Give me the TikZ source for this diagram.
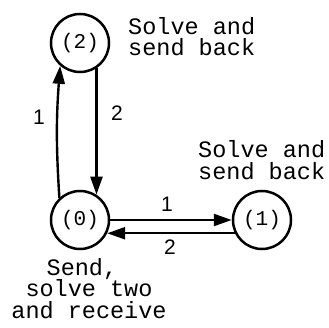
\documentclass[tikz,border=0pt]{standalone}
\usepackage{fontspec}
\newfontfamily\monofnt{Liberation Mono}
\newfontfamily\sansfnt{Liberation Sans}
\usetikzlibrary{arrows.meta}
\begin{document}
\begin{tikzpicture}[x=1pt,y=1pt,
  state/.style={circle,draw,line width=2.5pt,minimum size=58pt,inner sep=0pt,
    font=\monofnt\fontsize{21}{22}\selectfont},
  note/.style={inner sep=0pt,font=\monofnt\fontsize{23.5}{21.5}\selectfont},
  lbl/.style={inner sep=0pt,font=\sansfnt\fontsize{21}{22}\selectfont},
  conn/.style={line width=2.4pt,-{Triangle[length=18pt,width=12pt]}}]
\useasboundingbox (0,0) rectangle (329,327);
\node[state] (n2) at (80,284) {(2)};
\node[state] (n0) at (80,107) {(0)};
\node[state] (n1) at (262,107) {(1)};
\draw[conn] (n0.133) to[bend left=4] (n2.229);
\draw[conn] (n2.-57) -- (n0.57);
\draw[conn] (n0.0) -- (n1.180);
\draw[conn] (n1.206.6) -- (n0.-26.6);
\node[lbl] (l1) at (39,210) {1};
\node[lbl] (l2) at (117,214) {2};
\node[lbl] (l3) at (167,123) {1};
\node[lbl] (l4) at (170,80) {2};
\node[note,align=left,anchor=base west] (t2) at (128,271) {Solve and\\send back};
\node[note,align=left,anchor=base west] (t1) at (198,148) {Solve and\\send back};
\node[note,align=center,anchor=base] (t0) at (89,9) {Send,\hphantom{x}\\solve two\\and receive};
\end{tikzpicture}
\end{document}
